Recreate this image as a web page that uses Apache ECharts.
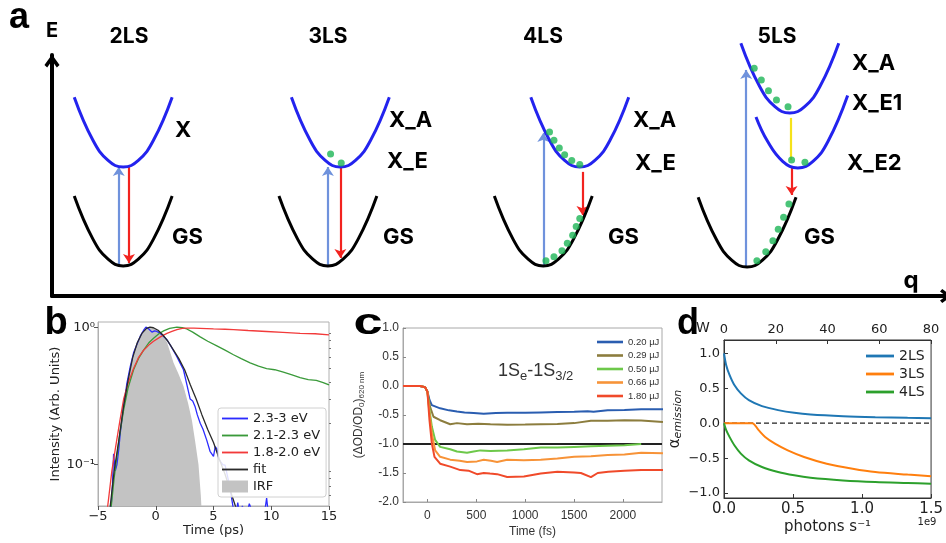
<!DOCTYPE html>
<html>
<head>
<meta charset="utf-8">
<script src="https://cdn.jsdelivr.net/npm/echarts@6/dist/echarts.min.js"></script>
<style>
  html, body { margin: 0; padding: 0; background: #fff; }
  #main { width: 946px; height: 543px; }
</style>
</head>
<body>
<div id="main"></div>
<script>
// ---------- panel a: potential-energy wells, [q, E] in schematic units ----------
const wellX_2LS   = [[2.5,8.25],[4.6,6.46],[6.3,5.63],[8.0,5.35],[9.7,5.63],[11.4,6.46],[13.5,8.25]];
const wellGS_2LS  = [[2.5,4.15],[4.6,2.36],[6.3,1.53],[8.0,1.25],[9.7,1.53],[11.4,2.36],[13.5,4.15]];
const wellX_3LS   = [[26.9,8.25],[29.0,6.46],[30.7,5.63],[32.4,5.35],[34.1,5.63],[35.8,6.46],[37.9,8.25]];
const wellGS_3LS  = [[25.5,4.15],[27.6,2.36],[29.3,1.53],[31.0,1.25],[32.7,1.53],[34.4,2.36],[36.5,4.15]];
const wellX_4LS   = [[53.8,8.25],[55.9,6.46],[57.6,5.63],[59.3,5.35],[61.0,5.63],[62.7,6.46],[64.8,8.25]];
const wellGS_4LS  = [[49.7,4.15],[51.8,2.36],[53.5,1.53],[55.2,1.25],[56.9,1.53],[58.6,2.36],[60.7,4.15]];
const wellXA_5LS  = [[77.4,10.49],[79.5,8.70],[81.2,7.87],[82.9,7.59],[84.6,7.87],[86.3,8.70],[88.4,10.49]];
const wellXE_5LS  = [[79.1,7.43],[80.4,6.42],[82.1,5.59],[83.8,5.31],[85.5,5.59],[87.2,6.42],[89.4,8.32]];
const wellGS_5LS  = [[72.6,4.10],[74.7,2.31],[76.4,1.48],[78.1,1.20],[79.8,1.48],[81.5,2.31],[83.6,4.10]];

// absorption (up), emission (down) and non-radiative transfer, as [start, end]
const absorption = [
  [[7.5,1.25],[7.5,5.35]],
  [[31.0,1.25],[31.0,5.35]],
  [[55.2,1.25],[55.2,6.76]],
  [[78.0,1.20],[78.0,9.38]]
];
const emission = [
  [[8.65,5.35],[8.65,1.37]],
  [[32.4,5.35],[32.4,1.58]],
  [[59.6,5.15],[59.6,3.36]],
  [[83.1,5.35],[83.1,4.19]]
];
const transfer5LS = [[83.0,7.39],[83.0,5.64]];

// relaxing populations
const carriers = [
  [31.3,5.89],[32.5,5.52],
  [55.9,6.80],[56.4,6.46],[57.0,6.14],[57.6,5.86],[58.4,5.62],[59.3,5.46],
  [55.5,1.46],[56.4,1.63],[57.3,1.88],[57.9,2.19],[58.5,2.52],[58.9,2.88],[59.3,3.22],
  [78.9,9.45],[79.7,8.96],[80.5,8.52],[81.4,8.13],[82.7,7.85],
  [83.1,5.64],[84.6,5.55],
  [79.2,1.46],[80.2,1.84],[81.0,2.29],[81.6,2.77],[82.2,3.27],[82.8,3.82]
];

// ---------- panel b: emission intensity vs time (ps) ----------
const band2330 = [[-3.9,0.045],[-3.75,0.07],[-3.65,0.12],[-3.5,0.09],[-3.36,0.10],[-3.2,0.13],[-3.07,0.17],[-2.8,0.26],[-2.5,0.39],[-2.2,0.52],[-1.92,0.65],[-1.6,0.76],[-1.34,0.86],[-1.05,0.95],[-0.85,1.0],[-0.6,0.97],[-0.33,0.92],[-0.1,0.94],[0.1,0.93],[0.4,0.90],[0.7,0.85],[0.97,0.81],[1.3,0.73],[1.6,0.66],[1.83,0.61],[2.1,0.55],[2.4,0.49],[2.7,0.38],[2.98,0.30],[3.2,0.29],[3.4,0.265],[3.6,0.23],[3.85,0.20],[4.1,0.18],[4.42,0.15],[4.7,0.125],[5.0,0.115],[5.15,0.135],[5.29,0.13],[5.45,0.11],[5.58,0.108],[5.8,0.10],[6.0,0.099],[6.15,0.097],[6.4,0.07],[6.6,0.055],[6.75,0.046],[6.9,0.04],[7.1,0.053],[7.3,0.042],[7.5,0.05],[7.8,0.04],[8.1,0.052],[8.5,0.042],[8.9,0.047],[9.3,0.038],[9.6,0.057],[9.8,0.04],[10.3,0.035]];
const band2123 = [[-4.0,0.04],[-3.85,0.05],[-3.6,0.08],[-3.36,0.115],[-3.1,0.17],[-2.78,0.25],[-2.4,0.36],[-1.92,0.49],[-1.5,0.59],[-1.05,0.68],[-0.6,0.77],[-0.19,0.83],[0.3,0.9],[0.68,0.94],[1.2,0.98],[1.83,1.0],[2.3,0.99],[2.69,0.97],[3.2,0.92],[3.85,0.85],[4.5,0.79],[5.29,0.73],[6.0,0.68],[6.73,0.63],[7.4,0.59],[8.17,0.55],[8.9,0.52],[9.6,0.50],[10.3,0.49],[11.05,0.47],[11.8,0.45],[12.5,0.43],[13.2,0.415],[13.9,0.41],[14.5,0.395],[15,0.38]];
const band1820 = [[-4.3,0.04],[-4.1,0.055],[-3.8,0.09],[-3.5,0.13],[-3.1,0.21],[-2.78,0.30],[-2.4,0.39],[-1.92,0.50],[-1.5,0.60],[-1.05,0.68],[-0.6,0.74],[-0.19,0.79],[0.4,0.85],[0.97,0.90],[1.4,0.93],[1.83,0.96],[2.3,0.98],[2.69,0.985],[3.3,0.985],[3.85,0.98],[5.0,0.97],[6.0,0.965],[6.73,0.96],[8.0,0.945],[9.6,0.93],[11.0,0.915],[12.5,0.90],[13.8,0.895],[15,0.88]];
const fitCurve = [[-4.0,0.045],[-3.6,0.09],[-3.2,0.15],[-2.8,0.26],[-2.4,0.41],[-2.0,0.60],[-1.6,0.77],[-1.2,0.90],[-0.8,0.98],[-0.5,1.0],[-0.2,0.99],[0.2,0.95],[0.6,0.88],[1.0,0.80],[1.5,0.69],[2.0,0.59],[2.5,0.49],[3.0,0.38],[3.5,0.30],[4.0,0.23],[4.5,0.18],[5.0,0.145],[5.5,0.11],[6.0,0.085],[6.5,0.063],[7.0,0.047]];
const irfCurve = [[-3.95,0.045],[-3.7,0.07],[-3.4,0.11],[-3.0,0.19],[-2.5,0.37],[-2.0,0.60],[-1.5,0.80],[-1.0,0.94],[-0.6,1.0],[-0.2,0.99],[0.2,0.94],[0.6,0.86],[0.97,0.78],[1.54,0.55],[2.0,0.45],[2.41,0.37],[2.8,0.28],[3.13,0.21],[3.4,0.15],[3.7,0.10],[3.9,0.06],[3.98,0.045]];
const bLegend = ['2.3-3 eV','2.1-2.3 eV','1.8-2.0 eV','fit','IRF'];
const bYLabels = { 0.1: '10⁻¹', 1: '10⁰' };

// ---------- panel c: bleach kinetics (fs) at several pulse energies ----------
const cNames = ['0.20 µJ','0.29 µJ','0.50 µJ','0.66 µJ','1.80 µJ'];
const pulse020 = [[-250,0],[-75,0],[-24,-0.02],[0,-0.1],[21,-0.24],[45,-0.33],[130,-0.385],[220,-0.42],[302,-0.44],[380,-0.455],[473,-0.465],[576,-0.48],[700,-0.465],[816,-0.46],[1000,-0.46],[1159,-0.455],[1330,-0.45],[1502,-0.445],[1639,-0.435],[1700,-0.445],[1844,-0.42],[2016,-0.415],[2187,-0.40],[2410,-0.40]];
const pulse029 = [[-250,0],[-75,0],[-24,-0.02],[0,-0.1],[27,-0.36],[62,-0.53],[130,-0.59],[233,-0.66],[302,-0.64],[405,-0.66],[520,-0.65],[645,-0.66],[816,-0.67],[1000,-0.665],[1159,-0.66],[1330,-0.655],[1502,-0.64],[1673,-0.60],[1844,-0.60],[2016,-0.59],[2187,-0.595],[2410,-0.62]];
const pulse050 = [[-250,0],[-75,0],[-24,-0.02],[0,-0.1],[21,-0.41],[45,-0.70],[79,-0.93],[130,-1.05],[233,-1.09],[302,-1.13],[405,-1.15],[473,-1.13],[542,-1.11],[645,-1.12],[816,-1.11],[987,-1.09],[1159,-1.06],[1330,-1.06],[1502,-1.05],[1673,-1.04],[1844,-1.03],[2016,-1.02],[2187,-1.0]];
const pulse066 = [[-250,0],[-75,0],[-24,-0.02],[0,-0.1],[21,-0.47],[45,-0.82],[79,-1.11],[130,-1.22],[233,-1.27],[330,-1.29],[405,-1.31],[507,-1.30],[576,-1.27],[650,-1.29],[713,-1.31],[816,-1.27],[987,-1.28],[1159,-1.27],[1330,-1.25],[1502,-1.22],[1673,-1.21],[1844,-1.19],[2016,-1.18],[2187,-1.15],[2410,-1.16]];
const pulse180 = [[-250,0],[-75,0],[-24,-0.02],[0,-0.1],[21,-0.59],[45,-0.99],[72,-1.22],[130,-1.34],[233,-1.39],[336,-1.45],[420,-1.46],[507,-1.52],[576,-1.50],[640,-1.51],[713,-1.52],[816,-1.57],[987,-1.56],[1159,-1.51],[1330,-1.48],[1500,-1.49],[1570,-1.50],[1673,-1.57],[1742,-1.50],[1850,-1.48],[2016,-1.46],[2187,-1.45],[2410,-1.45]];
const cXTicks = [0, 500, 1000, 1500, 2000];
const cReference = [[-250,-1.0],[2400,-1.0]];

// ---------- panel d: emission coefficient vs photon flux (1e9 photons/s) ----------
const dNames = ['2LS','3LS','4LS'];
const alpha2LS = [[0,1.0],[0.016,0.83],[0.04,0.69],[0.075,0.545],[0.122,0.426],[0.18,0.33],[0.275,0.244],[0.392,0.187],[0.509,0.148],[0.627,0.124],[0.862,0.10],[1.096,0.086],[1.33,0.077],[1.5,0.072]];
const alpha3LS = [[0,0],[0.204,0],[0.251,-0.10],[0.298,-0.196],[0.369,-0.292],[0.462,-0.388],[0.58,-0.483],[0.744,-0.579],[0.932,-0.651],[1.096,-0.699],[1.33,-0.735],[1.5,-0.76]];
const alpha4LS = [[0,0],[0.016,-0.10],[0.04,-0.196],[0.075,-0.316],[0.122,-0.435],[0.18,-0.531],[0.275,-0.627],[0.392,-0.699],[0.509,-0.746],[0.627,-0.78],[0.862,-0.818],[1.096,-0.842],[1.33,-0.856],[1.5,-0.866]];
const dZero = [[0,0],[1.5,0]];
const dYTicks = [-1, -0.5, 0, 0.5, 1];

// ---------- styling helpers ----------
const FONT_MPL = 'DejaVu Sans';
const FONT_ARIAL = 'Liberation Sans';
const minus = v => (v < 0 ? '\u2212' + Math.abs(v) : String(v));
const chevron = 'path://M5,0 L10,7 L8.2,8.6 L5,4.2 L1.8,8.6 L0,7 Z';
// legend glyphs: a thin horizontal stroke (aspect kept inside the item box)
const strokeIcon = 'path://M0,0 L24,0 L24,1.7 L0,1.7 Z';
const thickStrokeIcon = 'path://M0,0 L24,0 L24,2.4 L0,2.4 Z';

function well(data, color) {
  return {
    type: 'line', xAxisIndex: 0, yAxisIndex: 0, data: data,
    smooth: 0.45, symbol: 'none', clip: false, silent: true,
    lineStyle: { color: color, width: 3 }
  };
}
function arrows(list, color, withHead) {
  return {
    type: 'lines', coordinateSystem: 'cartesian2d', xAxisIndex: 0, yAxisIndex: 0,
    symbol: withHead ? ['none', 'arrow'] : ['none', 'none'], symbolSize: 9,
    lineStyle: { color: color, width: 2.2, opacity: 1, curveness: 0 },
    data: list.map(c => ({ coords: c })), silent: true, z: 3
  };
}
function trace(name, xi, yi, data, color, width, extra) {
  return Object.assign({
    type: 'line', name: name, xAxisIndex: xi, yAxisIndex: yi, data: data,
    symbol: 'none', showSymbol: false, clip: true, silent: true,
    lineStyle: { color: color, width: width }, itemStyle: { color: color }
  }, extra || {});
}

const chart = echarts.init(document.getElementById('main'), null, { renderer: 'canvas' });

const option = {
  animation: false,
  backgroundColor: '#fff',
  textStyle: { fontFamily: FONT_MPL },
  grid: [
    { left: 52, top: 55, width: 894, height: 241 },
    { left: 98, top: 322, width: 231, height: 184, show: true, borderColor: '#b0b0b0', borderWidth: 1 },
    { left: 403, top: 328, width: 259, height: 174, show: true, borderColor: '#a8a8a8', borderWidth: 1 },
    { left: 724, top: 340, width: 213, height: 158, show: true, borderColor: '#333', borderWidth: 1 }
  ],
  xAxis: [
    { gridIndex: 0, type: 'value', min: 0, max: 100.45,
      axisLine: { show: true, onZero: false, lineStyle: { color: '#000', width: 4 }, symbol: ['none', chevron], symbolSize: [16, 12] },
      axisTick: { show: false }, axisLabel: { show: false }, splitLine: { show: false } },
    { gridIndex: 1, type: 'value', min: -5, max: 15, interval: 5,
      axisLine: { show: true, onZero: false, lineStyle: { color: '#b0b0b0' } },
      axisTick: { show: true, length: 4, lineStyle: { color: '#555' } },
      axisLabel: { color: '#222', fontSize: 13, margin: 4, formatter: minus },
      splitLine: { show: false },
      name: 'Time (ps)', nameLocation: 'middle', nameGap: 18,
      nameTextStyle: { color: '#222', fontSize: 13 } },
    { gridIndex: 2, type: 'value', min: -250, max: 2400,
      axisLine: { show: true, onZero: false, lineStyle: { color: '#a8a8a8' } },
      axisTick: { show: true, inside: true, length: 3, customValues: cXTicks, lineStyle: { color: '#888' } },
      axisLabel: { color: '#333', fontSize: 12, fontFamily: FONT_ARIAL, margin: 8, customValues: cXTicks, formatter: v => String(v) },
      splitLine: { show: false },
      name: 'Time (fs)', nameLocation: 'middle', nameGap: 24,
      nameTextStyle: { color: '#333', fontSize: 12, fontFamily: FONT_ARIAL } },
    { gridIndex: 3, type: 'value', min: 0, max: 1.5, interval: 0.5,
      axisLine: { show: true, onZero: false, lineStyle: { color: '#333' } },
      axisTick: { show: true, inside: true, length: 4, lineStyle: { color: '#333' } },
      axisLabel: { color: '#222', fontSize: 15, margin: 4, formatter: v => v.toFixed(1) },
      splitLine: { show: false },
      name: 'photons s\u207B\u00B9', nameLocation: 'middle', nameGap: 22,
      nameTextStyle: { color: '#222', fontSize: 15 } },
    { gridIndex: 3, type: 'value', position: 'top', min: 0, max: 80, interval: 20,
      axisLine: { show: true, onZero: false, lineStyle: { color: '#333' } },
      axisTick: { show: true, inside: true, length: 4, lineStyle: { color: '#333' } },
      axisLabel: { color: '#222', fontSize: 13, margin: 4 },
      splitLine: { show: false } }
  ],
  yAxis: [
    { gridIndex: 0, type: 'value', min: 0, max: 10,
      axisLine: { show: true, onZero: false, lineStyle: { color: '#000', width: 4 }, symbol: ['none', chevron], symbolSize: [18, 13], symbolOffset: [0, -6] },
      axisTick: { show: false }, axisLabel: { show: false }, splitLine: { show: false } },
    { gridIndex: 1, type: 'log', min: 0.05, max: 1.09,
      axisLine: { show: true, onZero: false, lineStyle: { color: '#b0b0b0' } },
      axisTick: { show: true, length: 4, customValues: [0.1, 1], lineStyle: { color: '#555' } },
      axisLabel: { color: '#222', fontSize: 13, margin: 3, customValues: [0.1, 1], formatter: v => bYLabels[Math.round(v * 10) / 10] || '' },
      splitLine: { show: false },
      name: 'Intensity (Arb. Units)', nameLocation: 'middle', nameGap: 36,
      nameTextStyle: { color: '#222', fontSize: 13 } },
    { gridIndex: 1, type: 'log', min: 0.05, max: 1.09,
      axisLine: { show: false, onZero: false },
      axisTick: { show: true, length: 2, customValues: [0.06,0.07,0.08,0.09,0.2,0.3,0.4,0.5,0.6,0.7,0.8,0.9], lineStyle: { color: '#777' } },
      axisLabel: { show: false }, splitLine: { show: false } },
    { gridIndex: 2, type: 'value', min: -2, max: 1, interval: 0.5,
      axisLine: { show: true, onZero: false, lineStyle: { color: '#a8a8a8' } },
      axisTick: { show: true, inside: true, length: 3, lineStyle: { color: '#888' } },
      axisLabel: { color: '#333', fontSize: 12, fontFamily: FONT_ARIAL, margin: 4, formatter: v => v.toFixed(1) },
      splitLine: { show: false },
      name: '(\u0394OD/OD{s|0}){s|620 nm}', nameLocation: 'middle', nameGap: 37,
      nameTextStyle: { color: '#333', fontSize: 12, fontFamily: FONT_ARIAL,
        rich: { s: { fontSize: 8, fontFamily: FONT_ARIAL, color: '#333', padding: [7, 0, 0, 0] } } } },
    { gridIndex: 3, type: 'value', min: -1.07, max: 1.19,
      axisLine: { show: true, onZero: false, lineStyle: { color: '#333' } },
      axisTick: { show: true, inside: true, length: 4, customValues: dYTicks, lineStyle: { color: '#333' } },
      axisLabel: { color: '#222', fontSize: 13, margin: 4, customValues: dYTicks,
        formatter: v => (v < 0 ? '\u2212' : '') + Math.abs(v).toFixed(1) },
      splitLine: { show: false },
      name: '\u03B1{s|emission}', nameLocation: 'middle', nameGap: 40,
      nameTextStyle: { color: '#222', fontSize: 15,
        rich: { s: { fontSize: 11, fontStyle: 'italic', color: '#222', padding: [6, 0, 0, 0] } } } }
  ],
  legend: [
    { orient: 'vertical', left: 218, top: 408, width: 104,
      padding: [4, 6, 4, 4], itemGap: 4, itemWidth: 26, itemHeight: 12,
      borderColor: '#d0d0d0', borderWidth: 1, borderRadius: 3, backgroundColor: 'rgba(255,255,255,0.85)',
      textStyle: { color: '#222', fontSize: 13, fontFamily: FONT_MPL },
      data: bLegend.slice(0, 4).map(n => ({ name: n, icon: strokeIcon })).concat([{ name: 'IRF', icon: 'rect' }]) },
    { orient: 'vertical', left: 597, top: 337, padding: 0, itemGap: 3.5, itemWidth: 26, itemHeight: 9,
      textStyle: { color: '#333', fontSize: 9.5, fontFamily: FONT_ARIAL },
      data: cNames.map(n => ({ name: n, icon: thickStrokeIcon })) },
    { orient: 'vertical', left: 866, top: 349, padding: 0, itemGap: 4, itemWidth: 28, itemHeight: 14,
      textStyle: { color: '#222', fontSize: 14, fontFamily: FONT_MPL },
      data: dNames.map(n => ({ name: n, icon: thickStrokeIcon })) }
  ],
  series: [
    // panel a
    well(wellX_2LS, '#2323ee'), well(wellGS_2LS, '#000'),
    well(wellX_3LS, '#2323ee'), well(wellGS_3LS, '#000'),
    well(wellX_4LS, '#2323ee'), well(wellGS_4LS, '#000'),
    well(wellXA_5LS, '#2323ee'), well(wellXE_5LS, '#2323ee'), well(wellGS_5LS, '#000'),
    arrows(absorption, '#6f92dc', true),
    arrows(emission, '#f2231f', true),
    arrows([transfer5LS], '#f5e21a', false),
    { type: 'scatter', xAxisIndex: 0, yAxisIndex: 0, data: carriers, symbolSize: 7,
      itemStyle: { color: '#1db556' }, silent: true, z: 4 },

    // panel b
    trace('IRF', 1, 1, irfCurve, '#c3c3c3', 0, { areaStyle: { color: '#c3c3c3', opacity: 1, origin: 'start' }, z: 1, lineStyle: { width: 0, color: '#c3c3c3' } }),
    trace('2.3-3 eV', 1, 1, band2330, '#2b2bff', 1.3),
    trace('2.1-2.3 eV', 1, 1, band2123, '#3a9a3a', 1.3),
    trace('1.8-2.0 eV', 1, 1, band1820, '#f23a3a', 1.3),
    trace('fit', 1, 1, fitCurve, '#2a2a2a', 1.3),

    // panel c
    trace('cRef', 2, 3, cReference, '#222', 2, { z: 3 }),
    trace(cNames[0], 2, 3, pulse020, '#2a5db0', 2),
    trace(cNames[1], 2, 3, pulse029, '#8c7d3e', 2),
    trace(cNames[2], 2, 3, pulse050, '#6dc84a', 2),
    trace(cNames[3], 2, 3, pulse066, '#f79338', 2),
    trace(cNames[4], 2, 3, pulse180, '#f04a2a', 2),

    // panel d
    trace('dZero', 3, 4, dZero, '#222', 1.3, { lineStyle: { color: '#222', width: 1.3, type: [5, 3] }, z: 3 }),
    trace(dNames[0], 3, 4, alpha2LS, '#1f77b4', 2, { smooth: 0.3 }),
    trace(dNames[1], 3, 4, alpha3LS, '#ff7f0e', 2, { smooth: 0.3 }),
    trace(dNames[2], 3, 4, alpha4LS, '#2ca02c', 2, { smooth: 0.3 })
  ],
  graphic: [
    // panel letters
    { type: 'text', x: 19, y: 18, style: { text: 'a', font: 'bold 36px "Liberation Sans"', fill: '#000', textAlign: 'center', textVerticalAlign: 'middle' } },
    { type: 'text', x: 56, y: 324, style: { text: 'b', font: 'bold 38px "Liberation Sans"', fill: '#000', textAlign: 'center', textVerticalAlign: 'middle' } },
    { type: 'text', x: 368, y: 324, scaleX: 1.45, style: { text: 'c', font: 'bold 36px "Liberation Sans"', fill: '#000', textAlign: 'center', textVerticalAlign: 'middle' } },
    { type: 'text', x: 688, y: 324, style: { text: 'd', font: 'bold 36px "Liberation Sans"', fill: '#000', textAlign: 'center', textVerticalAlign: 'middle' } },

    // panel a labels
    { type: 'text', x: 52, y: 31, style: { text: 'E', font: 'bold 20px Inter', fill: '#000', textAlign: 'center', textVerticalAlign: 'middle' } },
    { type: 'text', x: 911, y: 281, style: { text: 'q', font: 'bold 24px Inter', fill: '#000', textAlign: 'center', textVerticalAlign: 'middle' } },
    { type: 'text', x: 129, y: 37, style: { text: '2LS', font: 'bold 21px Inter', fill: '#000', textAlign: 'center', textVerticalAlign: 'middle' } },
    { type: 'text', x: 328, y: 37, style: { text: '3LS', font: 'bold 21px Inter', fill: '#000', textAlign: 'center', textVerticalAlign: 'middle' } },
    { type: 'text', x: 543, y: 37, style: { text: '4LS', font: 'bold 21px Inter', fill: '#000', textAlign: 'center', textVerticalAlign: 'middle' } },
    { type: 'text', x: 777, y: 37, style: { text: '5LS', font: 'bold 21px Inter', fill: '#000', textAlign: 'center', textVerticalAlign: 'middle' } },
    { type: 'text', x: 175, y: 130, style: { text: 'X', font: 'bold 22px Inter', fill: '#000', textAlign: 'left', textVerticalAlign: 'middle' } },
    { type: 'text', x: 172, y: 237, style: { text: 'GS', font: 'bold 22px Inter', fill: '#000', textAlign: 'left', textVerticalAlign: 'middle' } },
    { type: 'text', x: 389, y: 120, style: { text: 'X_A', font: 'bold 22px Inter', fill: '#000', textAlign: 'left', textVerticalAlign: 'middle' } },
    { type: 'text', x: 387, y: 161, style: { text: 'X_E', font: 'bold 22px Inter', fill: '#000', textAlign: 'left', textVerticalAlign: 'middle' } },
    { type: 'text', x: 383, y: 237, style: { text: 'GS', font: 'bold 22px Inter', fill: '#000', textAlign: 'left', textVerticalAlign: 'middle' } },
    { type: 'text', x: 633, y: 120, style: { text: 'X_A', font: 'bold 22px Inter', fill: '#000', textAlign: 'left', textVerticalAlign: 'middle' } },
    { type: 'text', x: 635, y: 163, style: { text: 'X_E', font: 'bold 22px Inter', fill: '#000', textAlign: 'left', textVerticalAlign: 'middle' } },
    { type: 'text', x: 608, y: 237, style: { text: 'GS', font: 'bold 22px Inter', fill: '#000', textAlign: 'left', textVerticalAlign: 'middle' } },
    { type: 'text', x: 852, y: 63, style: { text: 'X_A', font: 'bold 22px Inter', fill: '#000', textAlign: 'left', textVerticalAlign: 'middle' } },
    { type: 'text', x: 852, y: 103, style: { text: 'X_E1', font: 'bold 22px Inter', fill: '#000', textAlign: 'left', textVerticalAlign: 'middle' } },
    { type: 'text', x: 847, y: 163, style: { text: 'X_E2', font: 'bold 22px Inter', fill: '#000', textAlign: 'left', textVerticalAlign: 'middle' } },
    { type: 'text', x: 804, y: 237, style: { text: 'GS', font: 'bold 22px Inter', fill: '#000', textAlign: 'left', textVerticalAlign: 'middle' } },

    // panel c transition label
    { type: 'text', x: 498, y: 371, style: { text: '1S{s|e}-1S{s|3/2}', font: '18px "Liberation Sans"', fill: '#333', textAlign: 'left', textVerticalAlign: 'middle',
      rich: { s: { fontSize: 13, fontFamily: FONT_ARIAL, fill: '#333', padding: [10, 0, 0, 0] } } } },

    // panel d extras
    { type: 'text', x: 703, y: 328, style: { text: 'W', font: '14px "DejaVu Sans"', fill: '#222', textAlign: 'center', textVerticalAlign: 'middle' } },
    { type: 'text', x: 927, y: 522, style: { text: '1e9', font: '10px "DejaVu Sans"', fill: '#222', textAlign: 'center', textVerticalAlign: 'middle' } }
  ]
};

chart.setOption(option);
</script>
</body>
</html>
